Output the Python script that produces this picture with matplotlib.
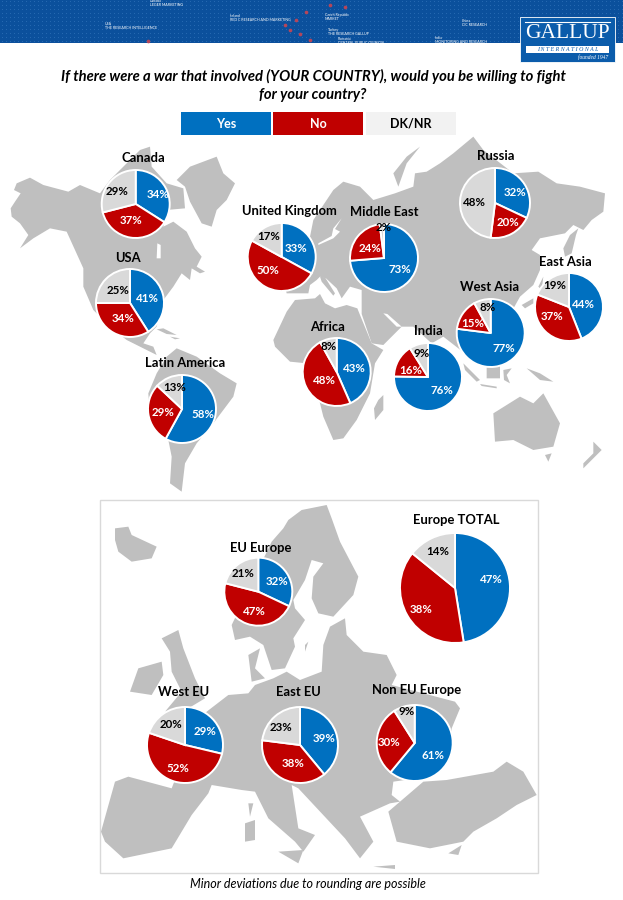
import numpy as np
from matplotlib import pyplot as plt
from matplotlib.patches import Polygon, Rectangle

plt.rcParams['font.family'] = ['Lato', 'DejaVu Sans']

# survey values
names = ['Canada', 'USA', 'Latin America', 'United Kingdom', 'Africa', 'Middle East',
         'Russia', 'East Asia', 'West Asia', 'India',
         'EU Europe', 'West EU', 'East EU', 'Non EU Europe', 'Europe TOTAL']
yes = [34, 41, 58, 33, 43, 73, 32, 44, 77, 76, 32, 29, 39, 61, 47]
no = [37, 34, 29, 50, 48, 24, 20, 37, 15, 16, 47, 52, 38, 30, 38]
dk = [29, 25, 13, 17, 8, 2, 48, 19, 8, 9, 21, 20, 23, 9, 14]
legend_labels = ['Yes', 'No', 'DK/NR']

BLUE = '#0070c0'
RED = '#c00000'
GREY = '#d9d9d9'
LAND = '#bfbfbf'

# layout, in reference pixels: pie x, y, radius
pie_pos = [(135.7, 204, 34), (130, 303, 34), (182, 409, 34), (281.7, 257, 34),
           (336.7, 372, 34), (384, 258, 34), (495, 203, 35), (569, 307, 34),
           (490.7, 333, 34), (428, 377, 34), (258.3, 591.7, 34), (185, 745, 38),
           (300, 745, 38), (414.7, 743, 38), (455, 588, 55)]
title_pos = [(143.3, 158.3), (128.3, 258.3), (185, 362.7), (289, 211), (327.7, 326.7),
             (384.3, 212), (495.7, 155.7), (565, 261.7), (490, 287.3), (428.3, 331),
             (260.7, 548.3), (183.3, 691.7), (298.3, 691.7), (417, 690), (456.7, 520.3)]
# yes / no / dk label spots
label_pos = [
    [(157.7, 195), (131, 220.7), (117.3, 191.7)],
    [(147.3, 299), (123.3, 318.7), (118.3, 290.7)],
    [(202.7, 415), (163, 412.3), (175, 387.3)],
    [(296.3, 248), (267.7, 270.3), (269, 236)],
    [(354.7, 369), (324.7, 381), (328.3, 346.3)],
    [(400, 269.7), (370, 248), (383.3, 227.7)],
    [(514.7, 192.7), (507.7, 222.3), (474.3, 202)],
    [(583.7, 304.3), (552, 316), (554.3, 285.7)],
    [(504.3, 348), (472.7, 323.7), (487.3, 307.7)],
    [(441.7, 391), (410.7, 370), (421.3, 353.7)],
    [(276.7, 581.3), (254, 611.7), (243.3, 573.3)],
    [(205.3, 731.3), (177.7, 768.3), (171.3, 724.3)],
    [(324.3, 738.3), (293, 763.3), (280.7, 727.3)],
    [(433.3, 755.7), (389.3, 743), (407, 711.7)],
    [(491.7, 579.3), (420.7, 609.3), (437.3, 551.7)],
]

# background map outlines
americas = [
    [(32, 235), (45, 215), (62, 190), (42, 180), (50, 160), (90, 143), (130, 165), (205, 185),
     (240, 165), (300, 190), (330, 150), (420, 60), (450, 50), (455, 110), (500, 160), (550, 175),
     (555, 235), (500, 240), (490, 290), (520, 275), (560, 305), (585, 355), (605, 380), (590, 410),
     (615, 425), (600, 430), (575, 415), (570, 450), (545, 430), (520, 470), (490, 510), (470, 590),
     (450, 610), (430, 640), (460, 650), (470, 675), (440, 660), (380, 630), (330, 590), (280, 540),
     (250, 470), (250, 415), (225, 360), (200, 305), (150, 295), (100, 325), (60, 355), (85, 315),
     (60, 280), (35, 260)],
    [(530, 150), (570, 110), (650, 80), (670, 130), (705, 160), (680, 210), (650, 240), (635, 290),
     (605, 280), (570, 215), (555, 170)],
    [(470, 730), (500, 680), (530, 655), (590, 680), (660, 730), (710, 760), (700, 800), (640, 880),
     (590, 940), (555, 1000), (545, 1085), (510, 1060), (515, 980), (505, 930), (450, 860), (445, 790)],
    [(470, 598), (490, 595), (530, 615), (500, 612)],
    [(510, 620), (540, 625), (525, 628)],
]
americas_water = [
    [(472, 340), (482, 345), (482, 385), (470, 385)],
]
old_world = [
    [(-80, 630), (-40, 545), (-15, 510), (45, 505), (60, 492), (75, 520), (105, 535), (140, 525),
     (172, 535), (180, 555), (215, 640), (250, 660), (225, 700), (210, 790), (170, 870), (130, 925),
     (100, 930), (70, 860), (50, 780), (20, 700), (-30, 695), (-75, 650)],
    [(235, 810), (250, 795), (250, 840), (225, 870), (222, 835)],
    [(30, 320), (40, 270), (100, 180), (130, 155), (180, 170), (220, 210), (285, 190), (340, 170),
     (345, 130), (380, 125), (420, 100), (460, 70), (520, 20), (550, 60), (640, 130), (715, 125),
     (770, 160), (840, 170), (915, 190), (910, 245), (875, 270), (850, 300), (820, 285), (795, 310),
     (720, 325), (695, 360), (720, 375), (720, 420), (700, 465), (660, 500), (610, 590), (570, 640),
     (520, 690), (430, 620), (395, 640), (340, 590), (305, 590), (250, 645), (215, 640), (185, 552),
     (185, 480), (150, 470), (125, 505), (110, 475), (78, 445), (60, 440), (50, 450), (30, 465),
     (25, 490), (-40, 490), (-45, 470), (-10, 440), (-10, 360)],
    [(60, 440), (75, 442), (105, 490), (100, 497), (65, 455)],
    [(795, 380), (790, 355), (810, 315), (835, 295), (828, 315), (815, 370)],
    [(280, 130), (320, 80), (360, 50), (320, 100), (295, 170)],
    [(580, 850), (660, 800), (700, 820), (730, 790), (780, 880), (760, 950), (700, 960), (640, 930),
     (585, 935)],
    [(735, 975), (755, 970), (745, 995)],
    [(880, 935), (905, 960), (880, 985), (850, 1015), (850, 1000), (880, 970)],
    [(490, 700), (540, 750), (530, 755), (495, 720)],
    [(540, 762), (590, 770), (590, 775), (545, 768)],
    [(560, 710), (600, 700), (600, 745), (560, 745)],
    [(610, 720), (635, 715), (620, 735), (630, 760), (612, 750)],
    [(680, 715), (720, 730), (760, 755), (720, 750)],
    [(665, 525), (700, 505), (700, 520), (675, 535)],
    [(715, 470), (730, 440), (725, 480)],
]
old_world_water = [
    [(250, 550), (262, 552), (305, 590), (290, 590)],
    [(125, 265), (105, 297), (120, 305), (100, 325), (55, 345), (55, 340), (95, 318), (100, 295)],
]
europe_north = [
    [(5, 360), (125, 110), (160, 70), (175, 45), (215, 15), (290, 0), (305, 40), (330, 110), (385, 215),
     (370, 270), (310, 335), (265, 325), (245, 280), (250, 215), (280, 175), (245, 165), (225, 225),
     (190, 285), (195, 310), (225, 345), (190, 400), (195, 425), (165, 490), (125, 495), (100, 420),
     (60, 395), (15, 405)],
    [(55, 450), (90, 430), (75, 490), (105, 520), (65, 530), (60, 490)],
    [(225, 420), (235, 410), (225, 440)],
]
europe = [
    [(60, 100), (100, 95), (110, 120), (185, 155), (170, 190), (110, 200), (70, 170), (60, 135)],
    [(105, 590), (130, 520), (200, 500), (205, 540), (170, 600)],
    [(200, 430), (250, 405), (265, 460), (300, 550), (330, 610), (280, 640), (210, 650), (260, 590),
     (230, 530), (225, 470)],
    [(18, 1010), (60, 860), (100, 845), (230, 880), (300, 700), (335, 650), (400, 600), (460, 595),
     (480, 570), (535, 550), (575, 530), (615, 555), (680, 530), (685, 450), (705, 395), (750, 370),
     (755, 420), (805, 470), (875, 480), (905, 540), (890, 570), (1080, 620), (1095, 640), (1070, 700),
     (1065, 790), (965, 850), (895, 860), (890, 900), (915, 920), (885, 925), (795, 965), (835, 1040),
     (795, 1090), (750, 1030), (610, 880), (590, 870), (610, 1000), (660, 1020), (625, 1070),
     (600, 1040), (520, 970), (480, 890), (440, 885), (350, 870), (340, 895), (290, 960), (230, 1060),
     (85, 1090), (30, 1040)],
    [(550, 1070), (625, 1065), (610, 1105)],
    [(450, 985), (480, 975), (480, 1035), (450, 1040)],
    [(460, 925), (475, 925), (465, 965)],
    [(880, 950), (985, 860), (1055, 855), (1195, 830), (1235, 800), (1285, 830), (1325, 900),
     (1265, 930), (1205, 970), (1135, 1010), (1105, 1040), (1005, 1060), (905, 1040)],
    [(1060, 1075), (1100, 1050), (1090, 1080)],
    [(835, 1115), (900, 1110), (900, 1122)],
]


def from_zoom(points, x0, y0):
    return [(x / 3 + x0, 900 - (y / 3 + y0)) for x, y in points]


fig = plt.figure(figsize=(6.23, 9), dpi=100)
ax = fig.add_axes([0, 0, 1, 1])
ax.set_xlim(0, 623)
ax.set_ylim(0, 900)
ax.axis('off')

# header band with the dotted world
ax.add_patch(Rectangle((0, 857), 623, 43, fc='#0b509c', ec='none', zorder=1))
dx, dy = np.meshgrid(np.arange(2, 623, 4), np.arange(859, 900, 4))
ax.scatter(dx.ravel(), dy.ravel(), s=0.6, c='#2a6cb4', lw=0, zorder=2)
red_x = [285, 290, 296, 300, 306, 310, 330, 345, 148]
red_y = [875, 870, 880, 866, 888, 860, 895, 893, 859]
ax.scatter(red_x, red_y, s=7, c='#b5465a', lw=0, zorder=2)
for tx, ty, s in [(150, 897, 'Canada\nLEGER MARKETING'), (105, 874, 'USA\nTHE RESEARCH INTELLIGENCE'),
                  (230, 882, 'Ireland\nRED C RESEARCH AND MARKETING'), (325, 883, 'Czech Republic\nMARKET'),
                  (328, 868, 'Turkey\nTHE RESEARCH GALLUP'), (338, 859, 'Romania\nCENTRAL PUBLIC OPINION'),
                  (435, 860, 'India\nMONITORING AND RESEARCH'), (462, 877, 'China\nCIC RESEARCH')]:
    ax.text(tx, ty, s, color='white', fontsize=2.6, va='center', zorder=3, linespacing=1.1)

# logo
ax.add_patch(Rectangle((520, 838), 95, 45, fc='#0b5cab', ec='white', lw=0.6, zorder=4))
ax.plot([525, 610], [878, 878], color='white', lw=0.8, zorder=5)
ax.text(567.5, 866, 'GALLUP', color='white', family='Liberation Serif', fontsize=15.5,
        ha='center', va='center', zorder=5)
ax.add_patch(Rectangle((526, 847), 83, 7.5, fc='white', ec='none', zorder=5))
ax.text(567.5, 850.6, 'I N T E R N A T I O N A L', color='#0b5cab', family='Liberation Serif',
        fontsize=4.2, style='italic', ha='center', va='center', zorder=6)
ax.text(608, 842.5, 'founded 1947', color='white', family='Liberation Serif', fontsize=4,
        style='italic', ha='right', va='center', zorder=5)

# question
ax.text(313, 824, 'If there were a war that involved (YOUR COUNTRY), would you be willing to fight',
        fontsize=10.6, fontweight='bold', style='italic', ha='center', va='center')
ax.text(313, 805.5, 'for your country?', fontsize=10.6, fontweight='bold', style='italic',
        ha='center', va='center')

# legend
legend_x = [181, 273, 366]
for lx, lab, col, tc in zip(legend_x, legend_labels, [BLUE, RED, '#f2f2f2'], ['white', 'white', 'black']):
    ax.add_patch(Rectangle((lx, 765), 90, 23, fc=col, ec='none'))
    ax.text(lx + 45, 776, lab, color=tc, fontsize=9, fontweight='bold', ha='center', va='center')

# maps
for pts in americas:
    ax.add_patch(Polygon(from_zoom(pts, 0, 130), fc=LAND, ec='none', zorder=1))
for pts in americas_water:
    ax.add_patch(Polygon(from_zoom(pts, 0, 130), fc='white', ec='none', zorder=1.5))
for pts in old_world:
    ax.add_patch(Polygon(from_zoom(pts, 300, 130), fc=LAND, ec='none', zorder=1))
for pts in old_world_water:
    ax.add_patch(Polygon(from_zoom(pts, 300, 130), fc='white', ec='none', zorder=1.5))

ax.add_patch(Rectangle((100, 27), 438, 373, fc='white', ec='#d9d9d9', lw=1, zorder=1.7))
for pts in europe:
    ax.add_patch(Polygon(from_zoom(pts, 95, 495), fc=LAND, ec='none', zorder=2))
for pts in europe_north:
    ax.add_patch(Polygon(from_zoom(pts, 230, 505), fc=LAND, ec='none', zorder=2))

# pies
for i, name in enumerate(names):
    px, py, r = pie_pos[i]
    values = [yes[i], no[i], dk[i]]
    ax.pie(values, colors=[BLUE, RED, GREY], startangle=90, counterclock=False,
           center=(px, 900 - py), radius=r, frame=True,
           wedgeprops={'edgecolor': 'white', 'linewidth': 1.4, 'zorder': 5})
    tx, ty = title_pos[i]
    ax.text(tx, 900 - ty, name, fontsize=9.4, fontweight='bold', ha='center', va='center', zorder=7)
    for (lx, ly), v, tc in zip(label_pos[i], values, ['white', 'white', 'black']):
        ax.text(lx, 900 - ly, '{0}%'.format(v), color=tc, fontsize=8.3, fontweight='bold',
                ha='center', va='center', zorder=7)

# pie() touches the limits and aspect
ax.set_xlim(0, 623)
ax.set_ylim(0, 900)
ax.set_aspect('auto')
ax.axis('off')

ax.text(308, 16, 'Minor deviations due to rounding are possible', fontsize=9, style='italic',
        ha='center', va='center')

fig.savefig('out.png', dpi=100)
